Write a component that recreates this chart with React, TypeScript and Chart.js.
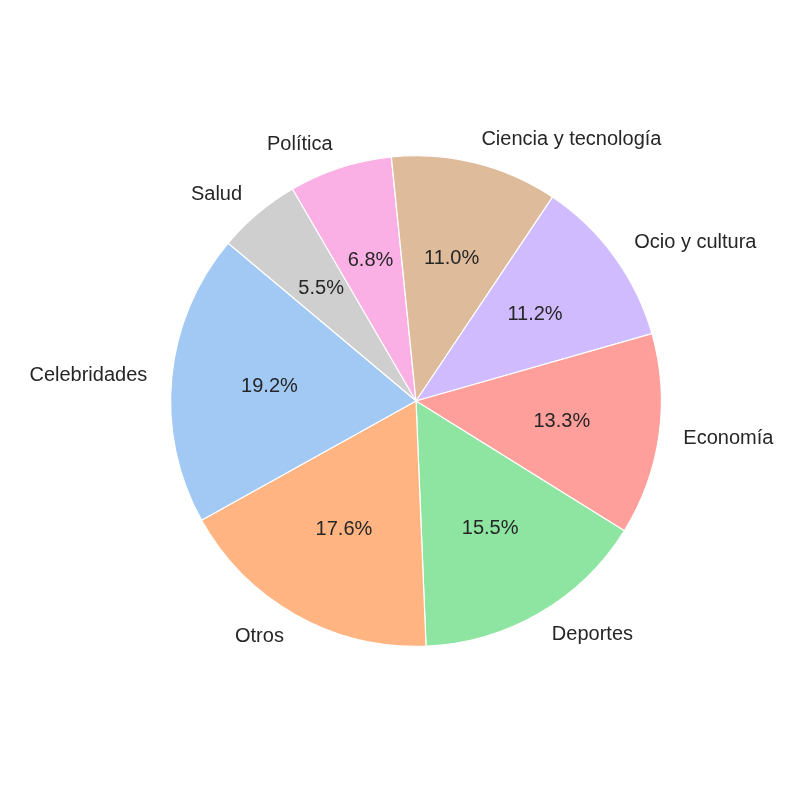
import React, { useEffect, useRef } from 'react';
import { Chart, registerables } from 'chart.js';

Chart.register(...registerables);

// order is clockwise from the Salud / Celebridades boundary
const categories = ['Salud', 'Política', 'Ciencia y tecnología', 'Ocio y cultura', 'Economía', 'Deportes', 'Otros', 'Celebridades'];
const shares = [5.5, 6.8, 11.0, 11.2, 13.3, 15.5, 17.6, 19.2];
const colors = ['#cfcfcf', '#fab0e4', '#debb9b', '#d0bbff', '#ff9f9b', '#8de5a1', '#ffb482', '#a1c9f4'];

const FONT = '20px "Liberation Sans", Arial, sans-serif';

const labelPlugin = {
    id: 'pieLabels',
    afterDraw(chart: any) {
        const ctx = chart.ctx;
        const meta = chart.getDatasetMeta(0);
        ctx.save();
        ctx.font = FONT;
        ctx.fillStyle = '#262626';
        ctx.textBaseline = 'middle';
        meta.data.forEach((arc: any, i: number) => {
            const mid = (arc.startAngle + arc.endAngle) / 2;
            const r = arc.outerRadius;
            const cos = Math.cos(mid);
            const sin = Math.sin(mid);
            ctx.textAlign = 'center';
            ctx.fillText(shares[i].toFixed(1) + '%', arc.x + cos * r * 0.6, arc.y + sin * r * 0.6);
            ctx.textAlign = cos < 0 ? 'right' : 'left';
            ctx.fillText(categories[i], arc.x + cos * r * 1.1, arc.y + sin * r * 1.1);
        });
        ctx.restore();
    },
};

const App: React.FC = () => {
    const canvasRef = useRef<HTMLCanvasElement | null>(null);

    useEffect(() => {
        document.body.style.margin = '0';
        if (!canvasRef.current) return;
        const chart = new Chart(canvasRef.current, {
            type: 'pie',
            data: {
                labels: categories,
                datasets: [
                    {
                        data: shares,
                        backgroundColor: colors,
                        borderColor: '#ffffff',
                        borderWidth: 1.2,
                    },
                ],
            },
            options: {
                responsive: false,
                animation: false,
                rotation: -50,
                layout: { padding: { left: 170, right: 138, top: 155, bottom: 153 } },
                plugins: {
                    legend: { display: false },
                    tooltip: { enabled: false },
                },
            },
            plugins: [labelPlugin],
        });
        return () => chart.destroy();
    }, []);

    return (
        <div style={{ width: 800, height: 800, background: '#fff' }}>
            <canvas ref={canvasRef} width={800} height={800}></canvas>
        </div>
    );
};

export default App;
